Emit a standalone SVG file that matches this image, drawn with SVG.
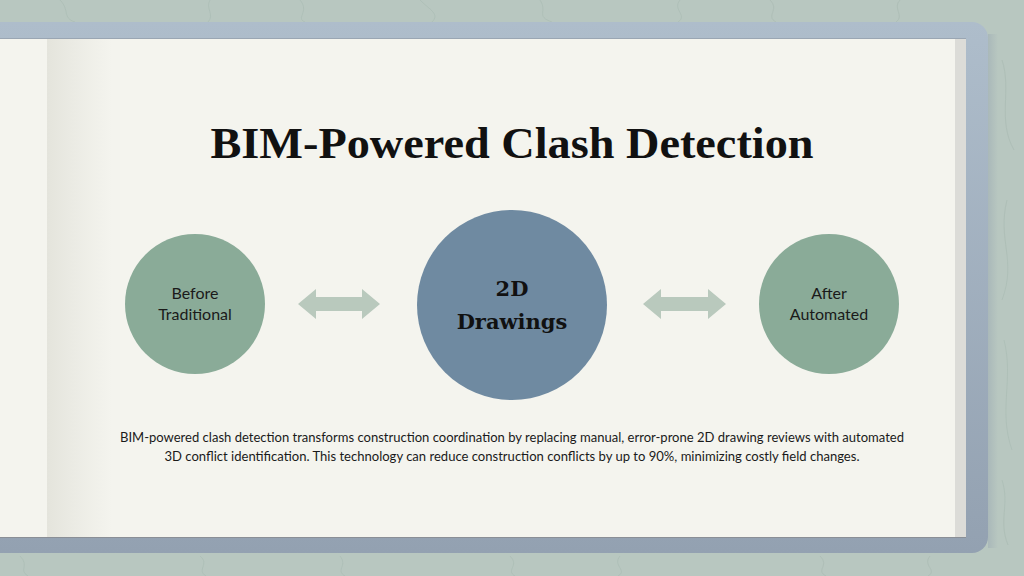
<svg xmlns="http://www.w3.org/2000/svg" width="1024" height="576" viewBox="0 0 1024 576">
<defs>
<linearGradient id="frameG" x1="0" y1="0" x2="0" y2="1">
<stop offset="0" stop-color="#aebdcb"/>
<stop offset="1" stop-color="#93a1b1"/>
</linearGradient>
<linearGradient id="spine" x1="0" y1="0" x2="1" y2="0">
<stop offset="0" stop-color="#e4e4dc"/>
<stop offset="0.4" stop-color="#ebebe4"/>
<stop offset="1" stop-color="#f4f4ee"/>
</linearGradient>
<linearGradient id="rshadow" x1="0" y1="0" x2="1" y2="0">
<stop offset="0" stop-color="#8f9dad" stop-opacity="0.35"/>
<stop offset="1" stop-color="#8f9dad" stop-opacity="0"/>
</linearGradient>
<style>
.node-g{fill:#8aab98}
.node-b{fill:#6f8aa1}
.lbl{font-family:"Lato","Liberation Sans",sans-serif;font-size:16px;fill:#1a1a1a;text-anchor:middle}
.lblb{font-family:"DejaVu Serif","Liberation Serif",serif;font-weight:bold;font-size:21px;fill:#111;text-anchor:middle}
.arrow{fill:#b9c9bd}
.vine{fill:none;stroke:#a9bab2;stroke-width:1;opacity:0.6}
</style>
</defs>
<rect width="1024" height="576" fill="#b8c7c0"/>
<g class="vine">
<path d="M60 0 C70 10 62 18 75 22 M210 0 C205 8 215 15 208 22 M300 0 C310 12 295 18 305 22 M420 0 C430 10 440 14 432 22 M540 0 C548 12 535 16 552 22 M680 0 C672 10 688 15 678 22 M770 0 C780 10 765 16 776 22 M900 0 C892 8 905 16 896 22"/>
<path d="M20 556 C30 566 18 570 28 576 M200 556 C210 564 196 570 206 576 M340 556 C348 566 335 570 345 576 M510 556 C520 566 505 570 515 576 M620 556 C612 566 628 570 618 576 M820 556 C830 566 815 570 826 576 M930 556 C922 566 938 570 928 576"/>
<path d="M1002 60 C1012 90 997 120 1014 150 M1007 200 C997 240 1017 260 1002 300 M1004 340 C1014 380 998 410 1012 450 M1002 480 C1010 505 998 520 1008 545"/>
</g>
<rect x="988" y="34" width="10" height="514" fill="url(#rshadow)"/>
<rect x="-20" y="22" width="1008" height="531" rx="16" fill="url(#frameG)"/>
<rect x="0" y="39" width="966" height="498" fill="#f4f4ee"/>
<rect x="47" y="39" width="65" height="498" fill="url(#spine)"/>
<rect x="955" y="39" width="11" height="498" fill="#dcdcd8"/>
<line x1="0" y1="537.5" x2="966" y2="537.5" stroke="#8a8f96" stroke-width="1"/>
<line x1="0" y1="38.5" x2="966" y2="38.5" stroke="#9aa6b3" stroke-width="1"/>

<g id="title">
<text x="512" y="158" text-anchor="middle" font-family="Liberation Serif, serif" font-weight="bold" font-size="45" fill="#111" textLength="603" lengthAdjust="spacingAndGlyphs">BIM-Powered Clash Detection</text>
</g>

<g id="connectors">
<path class="arrow" d="M298 304 L316 289 L316 297 L362 297 L362 289 L380 304 L362 319 L362 311 L316 311 L316 319 Z"/>
<path class="arrow" d="M643 304 L661 289 L661 297 L708 297 L708 289 L726 304 L708 319 L708 311 L661 311 L661 319 Z"/>
</g>

<g id="node-before">
<circle class="node-g" cx="195" cy="304" r="70"/>
<text class="lbl" x="195" y="299">Before</text>
<text class="lbl" x="195" y="320">Traditional</text>
</g>

<g id="node-center">
<circle class="node-b" cx="512" cy="305" r="95"/>
<text class="lblb" x="512" y="296">2D</text>
<text class="lblb" x="512" y="329">Drawings</text>
</g>

<g id="node-after">
<circle class="node-g" cx="829" cy="304" r="70"/>
<text class="lbl" x="829" y="299">After</text>
<text class="lbl" x="829" y="320">Automated</text>
</g>

<g id="description">
<text x="512" y="442" text-anchor="middle" font-family="Lato, Liberation Sans, sans-serif" font-size="13" fill="#1a1a1a" textLength="784" lengthAdjust="spacingAndGlyphs">BIM-powered clash detection transforms construction coordination by replacing manual, error-prone 2D drawing reviews with automated</text>
<text x="512" y="461" text-anchor="middle" font-family="Lato, Liberation Sans, sans-serif" font-size="13" fill="#1a1a1a" textLength="695" lengthAdjust="spacingAndGlyphs">3D conflict identification. This technology can reduce construction conflicts by up to 90%, minimizing costly field changes.</text>
</g>
</svg>
